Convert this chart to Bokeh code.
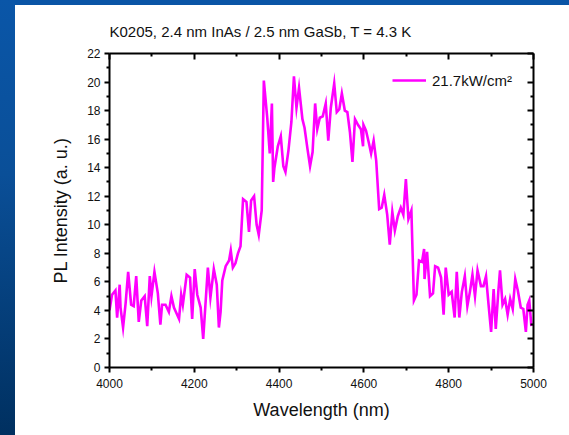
from bokeh.plotting import figure
from bokeh.models import (ColumnDataSource, Range1d, LinearAxis, FixedTicker,
                          Legend, LegendItem, Div)
from bokeh.layouts import column, row
from bokeh.embed import file_html
from bokeh.resources import INLINE

# PL spectrum, K0205 sample at 4.3 K
wavelength_nm = [
    4000, 4006, 4014, 4018, 4024, 4026, 4032, 4038, 4044, 4051, 4057, 4063,
    4069, 4075, 4083, 4089, 4095, 4099, 4106, 4114, 4120, 4124, 4132, 4140,
    4146, 4152, 4158, 4164, 4169, 4173, 4182, 4190, 4195, 4201, 4207, 4215,
    4221, 4232, 4238, 4246, 4253, 4258, 4262, 4266, 4274, 4282, 4286, 4291,
    4297, 4303, 4309, 4315, 4323, 4329, 4334, 4341, 4347, 4352, 4359, 4364,
    4372, 4378, 4383, 4386, 4389, 4397, 4404, 4410, 4415, 4422, 4429, 4435,
    4441, 4447, 4455, 4460, 4467, 4473, 4479, 4485, 4490, 4496, 4503, 4510,
    4516, 4522, 4530, 4536, 4542, 4548, 4555, 4561, 4567, 4573, 4579, 4586,
    4593, 4598, 4599, 4605, 4612, 4617, 4623, 4629, 4636, 4642, 4648, 4655,
    4661, 4667, 4673, 4680, 4687, 4693, 4699, 4705, 4712, 4718, 4724, 4730,
    4737, 4742, 4743, 4749, 4756, 4763, 4768, 4775, 4782, 4788, 4793, 4800,
    4807, 4814, 4819, 4825, 4831, 4838, 4844, 4850, 4856, 4862, 4868, 4876,
    4882, 4888, 4894, 4900, 4906, 4911, 4917, 4921, 4927, 4933, 4939, 4945,
    4951, 4957, 4963, 4970, 4976, 4982, 4986, 4990, 4995,
]
pl_intensity = [
    4.0, 5.1, 5.4, 3.5, 5.8, 4.2, 2.8, 4.5, 6.7, 4.4, 4.3, 6.4,
    3.2, 4.7, 5.0, 2.9, 6.4, 5.0, 6.7, 5.2, 3.0, 4.4, 4.4, 3.9,
    5.0, 4.2, 3.8, 3.4, 5.1, 4.4, 6.5, 6.3, 3.4, 6.9, 5.1, 4.2,
    2.0, 7.0, 4.9, 6.9, 5.8, 2.8, 3.9, 6.1, 7.1, 7.5, 8.2, 7.0,
    7.3, 8.0, 8.5, 11.8, 11.6, 9.5, 11.7, 12.0, 10.0, 9.3, 11.0, 20.1,
    17.5, 15.0, 18.5, 13.0, 14.0, 15.5, 16.2, 14.1, 13.7, 15.2, 17.2, 20.4,
    18.2, 19.6, 17.4, 16.8, 15.3, 14.1, 15.1, 18.5, 16.7, 17.5, 17.6, 18.5,
    15.9, 18.2, 19.9, 17.9, 18.1, 19.2, 18.0, 17.9, 16.5, 14.4, 17.4, 17.0,
    16.7, 15.5, 17.0, 16.6, 15.7, 15.0, 15.9, 14.5, 11.1, 11.2, 12.1, 10.7,
    8.6, 10.9, 9.6, 10.6, 11.2, 10.7, 13.2, 10.4, 11.0, 4.7, 5.1, 7.5,
    7.4, 8.3, 6.2, 8.1, 5.0, 5.2, 7.1, 7.0, 6.3, 3.7, 7.0, 5.1,
    5.3, 3.5, 6.7, 3.5, 5.3, 6.4, 4.3, 5.3, 6.5, 5.0, 6.8, 5.7,
    5.7, 6.4, 4.4, 2.5, 5.5, 2.7, 5.3, 6.8, 4.4, 4.8, 3.7, 4.8,
    4.1, 6.2, 5.4, 4.2, 4.1, 2.5, 4.4, 4.7, 2.9,
]
x_ticks = [4000, 4200, 4400, 4600, 4800, 5000]
y_ticks = [0, 2, 4, 6, 8, 10, 12, 14, 16, 18, 20, 22]
series_label = "21.7kW/cm\u00b2"
title_text = "K0205, 2.4 nm InAs / 2.5 nm GaSb, T = 4.3 K"

FONT = "Liberation Sans"
MAGENTA = "#ff00ff"
INK = "#111111"

src = ColumnDataSource(dict(wl=wavelength_nm, pl=pl_intensity))

p = figure(width=554, height=430, output_backend="svg", toolbar_location=None,
           x_range=Range1d(4000, 5000), y_range=Range1d(0, 22),
           min_border_left=94, min_border_right=36, min_border_top=48,
           min_border_bottom=68, title=title_text)
p.margin = 0
p.background_fill_color = "white"
p.border_fill_color = "white"
p.outline_line_color = None
p.xgrid.visible = False
p.ygrid.visible = False

p.title.text_font = FONT
p.title.text_font_size = "15px"
p.title.text_font_style = "normal"
p.title.text_color = INK
p.title.offset = 0
p.title.standoff = 27

r = p.line("wl", "pl", source=src, line_color=MAGENTA, line_width=2.6,
           line_join="miter")


def style_axis(ax, ticks, minor, labels=True, inward=False):
    ax.ticker = FixedTicker(ticks=ticks, minor_ticks=minor)
    ax.axis_line_width = 2
    ax.axis_line_color = "black"
    ax.major_tick_line_width = 2
    ax.minor_tick_line_width = 2
    ax.major_tick_line_color = "black"
    ax.minor_tick_line_color = "black"
    if inward:
        ax.major_tick_in, ax.major_tick_out = 6, 0
        ax.minor_tick_in, ax.minor_tick_out = 3, 0
    else:
        ax.major_tick_in, ax.major_tick_out = 0, 5
        ax.minor_tick_in, ax.minor_tick_out = 0, 3
    ax.major_label_text_font = FONT
    ax.major_label_text_font_size = "12px"
    ax.major_label_text_color = INK
    if not labels:
        # mirrored frame edge: tick marks only
        ax.major_label_overrides = {t: "" for t in ticks}
    ax.axis_label_text_font = FONT
    ax.axis_label_text_font_style = "normal"
    ax.axis_label_text_font_size = "18px"
    ax.axis_label_text_color = INK


x_minor = list(range(4100, 5000, 200))
y_minor = list(range(1, 22, 2))

xax = p.xaxis[0]
style_axis(xax, x_ticks, x_minor)
xax.axis_label = "Wavelength (nm)"
xax.major_label_standoff = 6
xax.axis_label_standoff = 9

yax = p.yaxis[0]
style_axis(yax, y_ticks, y_minor)
yax.axis_label = "PL Intensity (a. u.)"
yax.major_label_standoff = 4
yax.axis_label_standoff = 13

top_ax = LinearAxis()
style_axis(top_ax, x_ticks, x_minor, labels=False, inward=True)
p.add_layout(top_ax, "above")

right_ax = LinearAxis()
style_axis(right_ax, y_ticks, y_minor, labels=False, inward=True)
p.add_layout(right_ax, "right")

legend = Legend(items=[LegendItem(label=series_label, renderers=[r])],
                location=(283, 277), margin=0, padding=0, spacing=0,
                glyph_width=34, glyph_height=20, label_height=20,
                label_standoff=6, border_line_color=None,
                background_fill_alpha=0,
                label_text_font=FONT, label_text_font_size="15px",
                label_text_color=INK)
p.add_layout(legend, "center")

# slide frame: blue strip down the left side and along the top
left_strip = Div(text="", width=15, height=435, margin=0, styles={
    "background": "linear-gradient(to bottom, #0a56a8 0%, #0a4f98 40%, #003060 100%)",
})
top_strip = Div(text="", width=554, height=5, margin=0, styles={
    "background": "#0a55a6",
})
page = row(left_strip, column(top_strip, p, spacing=0), spacing=0)

open("out.html", "w").write(file_html(page, INLINE))
